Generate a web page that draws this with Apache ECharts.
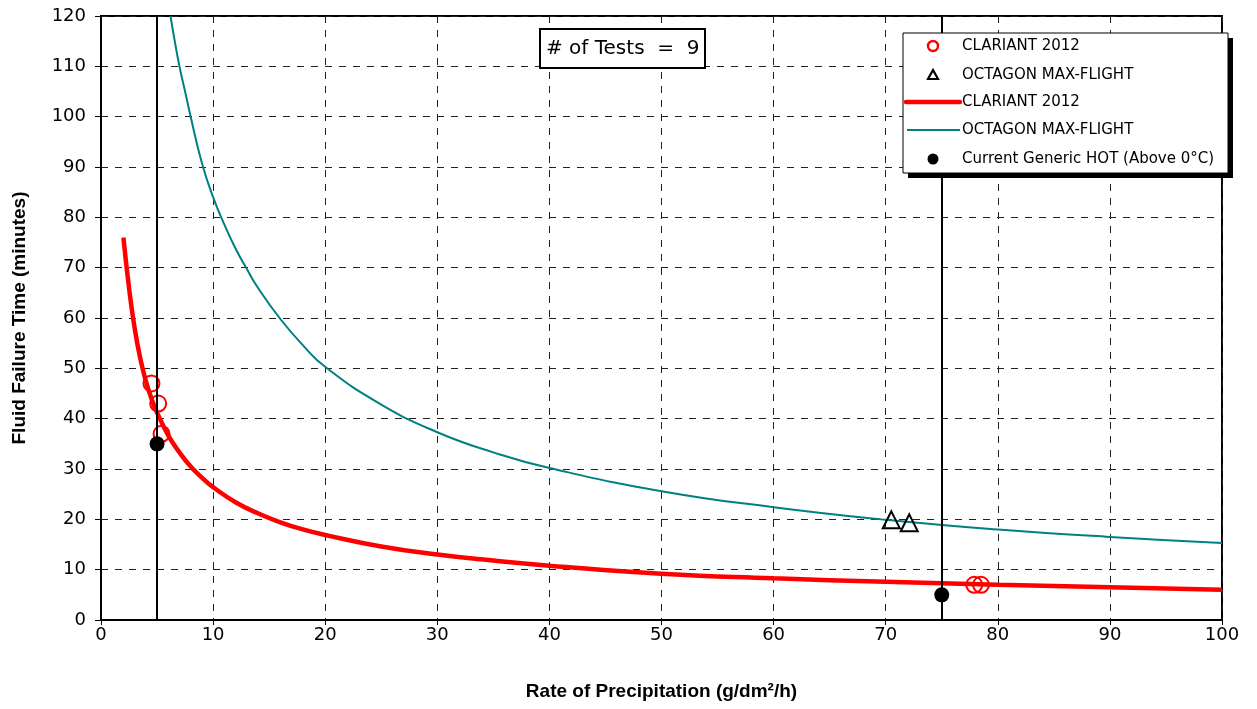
<!DOCTYPE html>
<html><head><meta charset="utf-8">
<script src="https://cdn.jsdelivr.net/npm/echarts@6/dist/echarts.min.js"></script>
<style>html,body{margin:0;padding:0;background:#fff}#c{width:1257px;height:709px}</style>
</head><body><div id="c"></div>
<script>
// Test points
const clariantPtsX = [4.5, 5.1, 5.4, 77.9, 78.5];
const clariantPtsY = [47, 43, 37, 7, 7];
const octagonPtsX = [70.5, 72.1];
const octagonPtsY = [19.9, 19.3];
// Current generic HOT points
const genericX = [5, 75];
const genericY = [35, 5];
// Regression curves
const clariantCurveX = [2, 2.5, 3, 3.5, 4, 4.5, 5, 6, 7, 8, 9, 10, 12, 14, 16, 18, 20, 25, 30, 35, 40, 50, 60, 70, 80, 90, 100];
const clariantCurveY = [76, 66, 58, 52, 47.5, 44, 41.2, 36.7, 33.3, 30.5, 28.3, 26.4, 23.4, 21.2, 19.4, 18, 16.9, 14.6, 13, 11.8, 10.8, 9.2, 8.3, 7.6, 7, 6.5, 6];
const octagonCurveX = [6.2, 6.5, 7, 7.5, 8, 9, 10, 11, 12, 13, 14, 16, 18, 20, 25, 30, 35, 40, 50, 60, 70, 80, 90, 100];
const octagonCurveY = [120, 116, 110, 105, 100, 90.8, 84, 78.6, 73.8, 69.8, 66, 59.8, 54.6, 50.3, 42.8, 37.3, 33.3, 30.2, 25.6, 22.4, 19.9, 18, 16.5, 15.3];
// Limits (vertical lines)
const limitLines = [5, 75];
const xTicks = {min: 0, max: 100, interval: 10};
const yTicks = {min: 0, max: 120, interval: 10};
const testsLabel = '# of Tests  =  9';
const names = ['CLARIANT 2012', 'OCTAGON MAX-FLIGHT', 'CLARIANT 2012', 'OCTAGON MAX-FLIGHT', 'Current Generic HOT (Above 0°C)'];

const zip = (a, b) => a.map((v, i) => [v, b[i]]);
const chart = echarts.init(document.getElementById('c'));
const tickFont = {fontFamily: 'DejaVu Sans', fontSize: 18, color: '#000'};

// Legend box (drawn with graphic so the two same-named entries stay separate)
const LX = 903, LY = 33, LW = 325, LH = 140;
const rowY = [46, 75, 102, 130, 159];
const iconCX = 933, textX = 962;
const legendFont = {fontFamily: 'DejaVu Sans', fontSize: 15, fill: '#000'};
const legendGraphics = [
  {type: 'rect', shape: {x: LX + 5, y: LY + 5, width: LW, height: LH}, style: {fill: '#000'}, z: 100},
  {type: 'rect', shape: {x: LX, y: LY, width: LW, height: LH}, style: {fill: '#fff', stroke: '#000', lineWidth: 1}, z: 101},
  {type: 'circle', shape: {cx: iconCX, cy: rowY[0], r: 5}, style: {fill: 'none', stroke: '#ff0000', lineWidth: 2.5}, z: 102},
  {type: 'polygon', shape: {points: [[iconCX, rowY[1] - 5], [iconCX - 5, rowY[1] + 4], [iconCX + 5, rowY[1] + 4]]}, style: {fill: 'none', stroke: '#000', lineWidth: 2.2}, z: 102},
  {type: 'line', shape: {x1: 906, y1: rowY[2], x2: 960, y2: rowY[2]}, style: {stroke: '#ff0000', lineWidth: 4.5, lineCap: 'round'}, z: 102},
  {type: 'line', shape: {x1: 907, y1: rowY[3], x2: 960, y2: rowY[3]}, style: {stroke: '#008080', lineWidth: 2}, z: 102},
  {type: 'circle', shape: {cx: iconCX, cy: rowY[4], r: 5.5}, style: {fill: '#000'}, z: 102}
];
names.forEach((n, i) => legendGraphics.push({
  type: 'text', x: textX, y: rowY[i], z: 103,
  style: Object.assign({text: n, textVerticalAlign: 'middle', verticalAlign: 'middle'}, legendFont)
}));

chart.setOption({
  animation: false,
  backgroundColor: '#fff',
  title: {
    text: testsLabel, left: 540, top: 29,
    borderColor: '#000', borderWidth: 2, padding: [10, 6, 9, 6],
    backgroundColor: '#fff',
    textStyle: {fontFamily: 'DejaVu Sans', fontSize: 20, fontWeight: 'normal', color: '#000'}
  },
  graphic: legendGraphics,
  grid: {left: 101, right: 35, top: 16, bottom: 89, show: true, borderColor: '#000', borderWidth: 2, backgroundColor: 'transparent'},
  xAxis: {
    type: 'value', min: xTicks.min, max: xTicks.max, interval: xTicks.interval,
    name: 'Rate of Precipitation (g/dm²/h)', nameLocation: 'middle', nameGap: 62,
    nameTextStyle: {fontFamily: 'Liberation Sans', fontWeight: 'bold', fontSize: 19, color: '#000'},
    axisLine: {show: true, onZero: false, lineStyle: {color: '#000', width: 2}},
    axisTick: {show: true, length: 5, lineStyle: {color: '#000'}},
    axisLabel: Object.assign({margin: 6}, tickFont),
    splitLine: {show: true, lineStyle: {color: '#222', type: [7, 7], width: 1}}
  },
  yAxis: {
    type: 'value', min: yTicks.min, max: yTicks.max, interval: yTicks.interval,
    name: 'Fluid Failure Time (minutes)', nameLocation: 'middle', nameGap: 72,
    nameTextStyle: {fontFamily: 'Liberation Sans', fontWeight: 'bold', fontSize: 19, color: '#000'},
    axisLine: {show: true, onZero: false, lineStyle: {color: '#000', width: 2}},
    axisTick: {show: true, length: 6, lineStyle: {color: '#000'}},
    axisLabel: Object.assign({margin: 15}, tickFont),
    splitLine: {show: true, lineStyle: {color: '#222', type: [7, 7], width: 1}}
  },
  series: [
    {
      name: names[0], type: 'scatter', data: zip(clariantPtsX, clariantPtsY),
      symbol: 'circle', symbolSize: 16, z: 3,
      itemStyle: {color: 'rgba(255,255,255,0)', borderColor: '#ff0000', borderWidth: 2, opacity: 1}
    },
    {
      name: names[1], type: 'scatter', data: zip(octagonPtsX, octagonPtsY),
      symbol: 'triangle', symbolSize: 17, z: 3,
      itemStyle: {color: 'rgba(255,255,255,0)', borderColor: '#000', borderWidth: 2, opacity: 1}
    },
    {
      name: names[2], type: 'line', data: zip(clariantCurveX, clariantCurveY),
      smooth: 0.5, showSymbol: false, symbol: 'none', z: 2,
      lineStyle: {color: '#ff0000', width: 4.5}, itemStyle: {color: '#ff0000'}
    },
    {
      name: names[3], type: 'line', data: zip(octagonCurveX, octagonCurveY),
      smooth: 0.5, showSymbol: false, symbol: 'none', z: 2,
      lineStyle: {color: '#008080', width: 2}, itemStyle: {color: '#008080'},
      markLine: {
        silent: true, symbol: ['none', 'none'], label: {show: false},
        lineStyle: {color: '#000', width: 2, type: 'solid'},
        data: limitLines.map(v => ({xAxis: v}))
      }
    },
    {
      name: names[4], type: 'scatter', data: zip(genericX, genericY),
      symbol: 'circle', symbolSize: 15, z: 4,
      itemStyle: {color: '#000', opacity: 1}
    }
  ]
});
</script>
</body></html>
